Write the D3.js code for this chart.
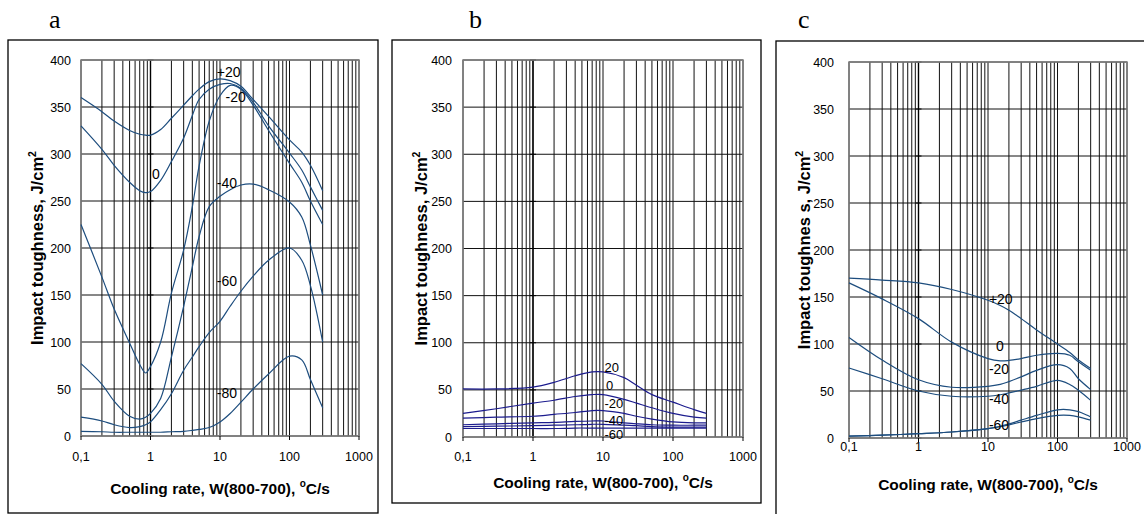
<!DOCTYPE html>
<html>
<head>
<meta charset="utf-8">
<script src="https://cdn.jsdelivr.net/npm/d3@7.9.0/dist/d3.min.js"></script>
<style>
  html, body { margin: 0; padding: 0; background: #fff; }
  svg { display: block; }
  text { font-family: Arial, "Liberation Sans", sans-serif; }
  text.letter { font-family: "Liberation Serif", "Times New Roman", serif; }
</style>
</head>
<body>
<svg id="chart" width="1144" height="514"></svg>
<script>
// ---- data ----
const xTickValues = [0.1, 1, 10, 100, 1000];
const xTickLabels = ['0,1', '1', '10', '100', '1000'];
const yTickValues = [0, 50, 100, 150, 200, 250, 300, 350, 400];

// panel a
const aX = [0.1, 0.2, 0.3, 0.5, 0.7, 0.85, 1, 1.4, 2, 3, 4, 5, 7, 10, 14, 20, 30, 50, 100, 150, 200, 300];
const aPlus20 = [360, 345, 335, 325, 321, 320, 320, 326, 338, 352, 362, 369, 377, 380, 378, 372, 358, 340, 315, 302, 288, 261];
const aZero = [330, 305, 288, 270, 261, 259, 260, 272, 292, 317, 341, 358, 369, 374, 375, 370, 355, 330, 301, 283, 265, 240];
const aMinus20 = [225, 169, 135, 99, 76, 67, 74, 100, 152, 198, 244, 287, 335, 362, 373, 369, 352, 325, 290, 270, 250, 225];
const aMinus40 = [77, 55, 37, 21, 18, 20, 24, 40, 84, 138, 180, 212, 244, 255, 262, 267, 268, 262, 249, 233, 203, 150];
const aMinus60 = [20, 16, 12, 9, 10, 12, 15, 28, 45, 70, 84, 95, 110, 122, 138, 154, 170, 187, 200, 187, 160, 100];
const aMinus80 = [5, 4.5, 4, 4, 4, 4, 4, 4, 4.5, 5, 6, 7, 9, 15, 24, 36, 50, 66, 85, 81, 60, 30];
const aNames = ['+20', '0', '-20', '-40', '-60', '-80'];

// panel b
const bX = [0.1, 0.3, 1, 2, 4, 7, 10, 20, 30, 50, 100, 200, 300];
const bPlus20 = [51, 51, 53, 58, 65, 69, 69, 63, 55, 45, 37, 29, 25];
const bZero = [25, 30, 36, 39, 43, 45, 45, 40, 36, 31, 25, 21, 20];
const bMinus20 = [20, 21, 22, 24, 26, 28, 28, 25, 22, 19, 16, 15, 15];
const bMinus40 = [13, 14, 15, 15.5, 16.5, 17, 17, 15, 14, 13, 12.5, 12.5, 12.5];
const bMinus60 = [11, 11.5, 12, 12.5, 13, 13.5, 13.5, 12.5, 12, 11, 10.5, 10.5, 10.5];
const bMinus80 = [9, 9, 9, 9, 9.5, 9.5, 9.5, 9.5, 9.5, 9.5, 9.5, 9.5, 9.5];
const bNames = ['20', '0', '-20', '-40', '-60', ''];

// panel c
const cX = [0.1, 0.3, 1, 3, 10, 15, 20, 30, 50, 100, 150, 200, 300];
const cPlus20 = [170, 168, 165, 158, 146.5, 141, 136, 127, 115, 100, 91, 83, 74];
const cZero = [165, 148, 127, 102, 84.5, 82, 82.5, 84.5, 88, 90, 88, 81, 72];
const cMinus20 = [107, 83, 62, 54, 55, 57, 60, 65, 72, 78, 74, 63, 51.5];
const cMinus40 = [74.5, 63, 50, 44.4, 44.4, 46, 48, 51, 55, 61.4, 57, 50.7, 40];
const cMinus60 = [2, 3, 4.6, 6.4, 10, 12.5, 15, 19, 24, 30, 30, 28, 22.5];
const cMinus80 = [2, 3, 4.6, 6.4, 10, 12, 14, 17, 20.6, 24, 24, 22.5, 19];
const cNames = ['+20', '0', '-20', '-40', '-60', ''];

// ---- layout ----
const panels = [
  {
    letter: 'a', letterX: 49, frame: [8, 40, 370, 473],
    left: 81, right: 359, top: 60, bottom: 436,
    yLabelGap: 10, xLabelY: 461, xTitleY: 494, yTitleGap: 38,
    yTitle: 'Impact toughness, J/cm', color: '#1d4d7e', labelSize: 14,
    x: aX, series: [aPlus20, aZero, aMinus20, aMinus40, aMinus60, aMinus80], names: aNames,
    // label anchors in data coordinates [x, y]
    labelAt: [[9, 387], [1.05, 279], [12, 361], [9, 269], [9, 165], [9, 46]],
  },
  {
    letter: 'b', letterX: 469, frame: [392, 40, 369, 463],
    left: 463, right: 743, top: 60, bottom: 437,
    yLabelGap: 11, xLabelY: 461, xTitleY: 488, yTitleGap: 36,
    yTitle: 'Impact toughness, J/cm', color: '#1c1c8e', labelSize: 13,
    x: bX, series: [bPlus20, bZero, bMinus20, bMinus40, bMinus60, bMinus80], names: bNames,
    labelAt: [[10.5, 74], [11, 55], [10.5, 36], [10.5, 18], [10.5, 3.5], [10, 0]],
  },
  {
    letter: 'c', letterX: 798, frame: [776, 41, 400, 490],
    left: 849, right: 1127, top: 62, bottom: 438,
    yLabelGap: 15, xLabelY: 451, xTitleY: 490, yTitleGap: 39,
    yTitle: 'Impact toughnes s, J/cm', color: '#1d4d7e', labelSize: 14,
    x: cX, series: [cPlus20, cZero, cMinus20, cMinus40, cMinus60, cMinus80], names: cNames,
    labelAt: [[10.3, 148], [13, 98], [10.3, 73], [10.3, 41], [10.3, 13.5], [10, 0]],
  },
];

const svg = d3.select('#chart');
svg.append('rect').attr('width', 1144).attr('height', 514).attr('fill', '#fff');

panels.forEach((p) => drawPanel(p));

function drawPanel(p) {
  const x = d3.scaleLog().domain([0.1, 1000]).range([p.left, p.right]);
  const y = d3.scaleLinear().domain([0, 400]).range([p.bottom, p.top]);
  const g = svg.append('g');

  // outer frame
  g.append('rect')
    .attr('x', p.frame[0]).attr('y', p.frame[1])
    .attr('width', p.frame[2]).attr('height', p.frame[3])
    .attr('fill', 'none').attr('stroke', '#000').attr('stroke-width', 1.3);

  // panel letter
  svg.append('text')
    .attr('class', 'letter')
    .attr('x', p.letterX).attr('y', 28)
    .attr('font-size', 26)
    .text(p.letter);

  // vertical grid: every minor log tick
  let minor = [];
  [0.1, 1, 10, 100].forEach((d) => {
    for (let k = 1; k <= 9; k++) minor.push(d * k);
  });
  minor.push(1000);
  g.selectAll('line.vgrid').data(minor).join('line')
    .attr('class', 'vgrid')
    .attr('x1', (d) => x(d)).attr('x2', (d) => x(d))
    .attr('y1', p.top).attr('y2', p.bottom)
    .attr('stroke', '#111').attr('stroke-width', 1);

  // horizontal grid
  g.selectAll('line.hgrid').data(yTickValues).join('line')
    .attr('class', 'hgrid')
    .attr('x1', p.left).attr('x2', p.right)
    .attr('y1', (d) => y(d)).attr('y2', (d) => y(d))
    .attr('stroke', '#111').attr('stroke-width', 1);

  // value axis crosses at x = 1
  g.append('line')
    .attr('x1', x(1)).attr('x2', x(1))
    .attr('y1', p.top).attr('y2', p.bottom)
    .attr('stroke', '#000').attr('stroke-width', 1.4);
  g.selectAll('line.ytick').data(yTickValues).join('line')
    .attr('x1', x(1) - 3).attr('x2', x(1) + 3)
    .attr('y1', (d) => y(d)).attr('y2', (d) => y(d))
    .attr('stroke', '#000').attr('stroke-width', 1);

  // plot border
  g.append('rect')
    .attr('x', p.left).attr('y', p.top)
    .attr('width', p.right - p.left).attr('height', p.bottom - p.top)
    .attr('fill', 'none').attr('stroke', '#808080').attr('stroke-width', 1.5);

  // x axis ticks
  g.selectAll('line.xtick').data(xTickValues).join('line')
    .attr('x1', (d) => x(d)).attr('x2', (d) => x(d))
    .attr('y1', p.bottom).attr('y2', p.bottom + 4)
    .attr('stroke', '#000').attr('stroke-width', 1);

  // tick labels
  g.selectAll('text.xlab').data(xTickValues).join('text')
    .attr('x', (d) => x(d)).attr('y', p.xLabelY)
    .attr('text-anchor', 'middle').attr('font-size', 12.5)
    .text((d, i) => xTickLabels[i]);
  g.selectAll('text.ylab').data(yTickValues).join('text')
    .attr('x', p.left - p.yLabelGap).attr('y', (d) => y(d) + 4.5)
    .attr('text-anchor', 'end').attr('font-size', 12.5)
    .text((d) => d);

  // axis titles
  const xt = g.append('text')
    .attr('x', (p.left + p.right) / 2).attr('y', p.xTitleY)
    .attr('text-anchor', 'middle').attr('font-size', 15.5).attr('font-weight', 'bold');
  xt.append('tspan').text('Cooling rate, W(800-700), ');
  xt.append('tspan').attr('font-size', 10).attr('dy', -7).text('o');
  xt.append('tspan').attr('dy', 7).text('C/s');

  const yt = g.append('text')
    .attr('transform', `translate(${p.left - p.yTitleGap},${(p.top + p.bottom) / 2}) rotate(-90)`)
    .attr('text-anchor', 'middle').attr('font-size', 16.5).attr('font-weight', 'bold');
  yt.append('tspan').text(p.yTitle);
  yt.append('tspan').attr('font-size', 10.5).attr('dy', -7).text('2');

  // curves
  const line = d3.line()
    .x((d) => x(d[0]))
    .y((d) => y(d[1]))
    .curve(d3.curveCatmullRom.alpha(0.5));

  p.series.forEach((vals) => {
    g.append('path')
      .attr('d', line(p.x.map((xv, i) => [xv, vals[i]])))
      .attr('fill', 'none')
      .attr('stroke', p.color)
      .attr('stroke-width', 1.2);
  });

  // curve labels
  p.names.forEach((name, i) => {
    if (!name) return;
    g.append('text')
      .attr('x', x(p.labelAt[i][0]))
      .attr('y', y(p.labelAt[i][1]) + 5)
      .attr('font-size', p.labelSize)
      .attr('fill', '#000')
      .text(name);
  });
}
</script>
</body>
</html>
